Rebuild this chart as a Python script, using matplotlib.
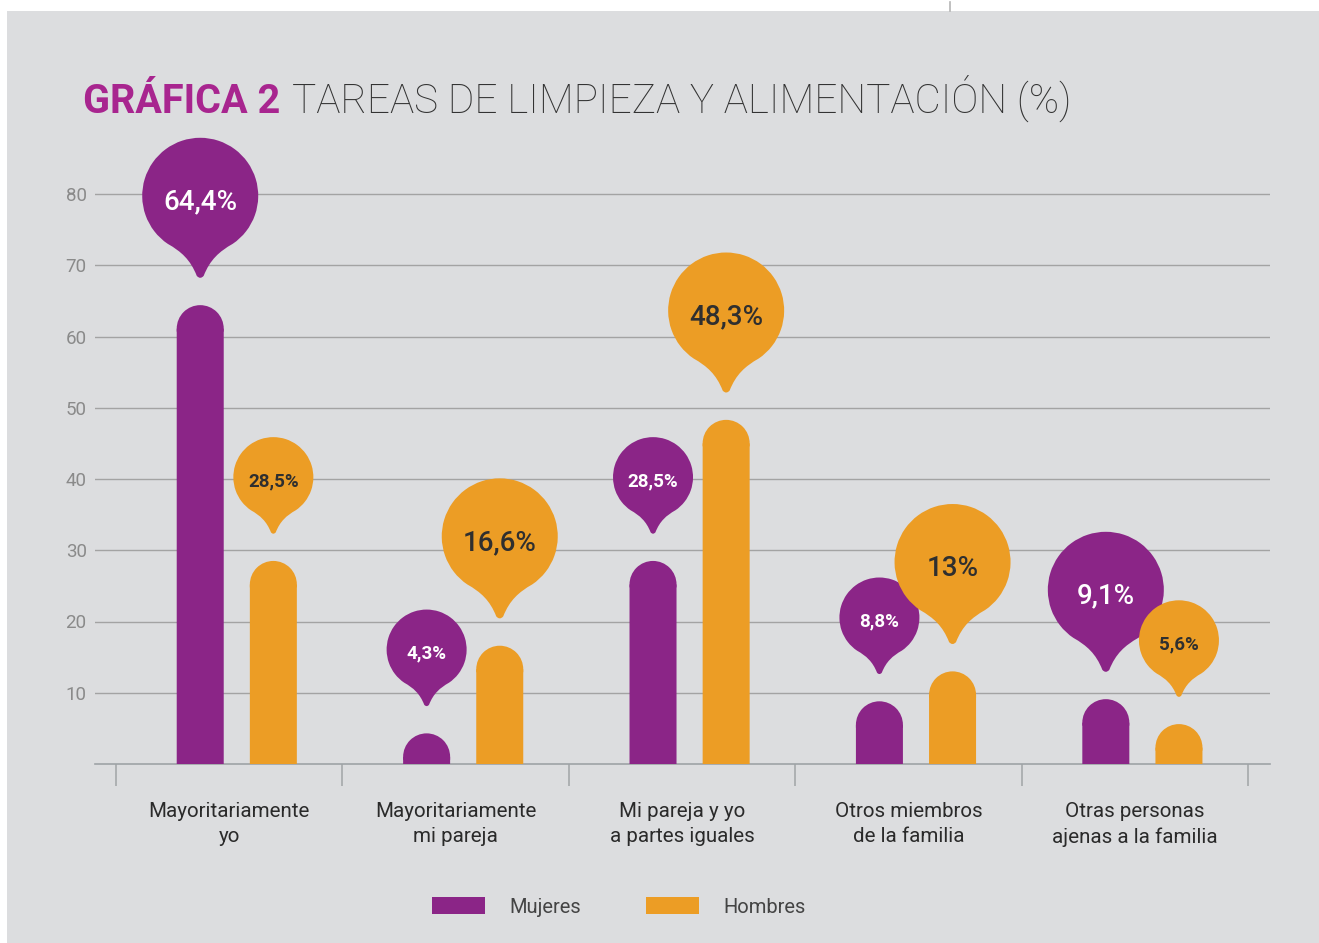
import matplotlib
matplotlib.use("Agg")
import matplotlib.pyplot as plt
from matplotlib.path import Path
from matplotlib.patches import PathPatch, Rectangle, Patch
from matplotlib.lines import Line2D
import matplotlib.transforms as mtrans

plt.rcParams['font.family'] = ['Roboto', 'DejaVu Sans']

# ---------------- data ----------------
categories = ["Mayoritariamente\nyo", "Mayoritariamente\nmi pareja",
              "Mi pareja y yo\na partes iguales", "Otros miembros\nde la familia",
              "Otras personas\najenas a la familia"]
mujeres = [64.4, 4.3, 28.5, 8.8, 9.1]
hombres = [28.5, 16.6, 48.3, 13.0, 5.6]
series_names = ["Mujeres", "Hombres"]
y_ticks = [10, 20, 30, 40, 50, 60, 70, 80]

# ---------------- style ----------------
PURPLE = "#8b2587"
ORANGE = "#ec9d25"
BG = "#dcdddf"
W, H = 1319, 943
DPI = 100

fig = plt.figure(figsize=(W / DPI, H / DPI), dpi=DPI, facecolor="white")
fig.patches.append(Rectangle((7 / W, 0), 1, (H - 11) / H, transform=fig.transFigure,
                             facecolor=BG, edgecolor="none", zorder=-10))
fig.add_artist(Line2D([950 / W, 950 / W], [1 - 2 / H, 1 - 11 / H], color="#b5b5b5", lw=1.2))

ppu = 7.125          # pixels per y unit
cat_px = 226.4       # pixels per category
x0px = 116
ax_left, ax_right = 95, 1270
ymax = 90
ax = fig.add_axes([ax_left / W, (H - 764) / H, (ax_right - ax_left) / W, ymax * ppu / H])
ax.set_facecolor("none")
ax.set_xlim((ax_left - x0px) / cat_px, (ax_right - x0px) / cat_px)
ax.set_ylim(0, ymax)

for s in ["left", "right", "top"]:
    ax.spines[s].set_visible(False)
ax.spines["bottom"].set_color("#9ea3a6")
ax.spines["bottom"].set_linewidth(1.2)

ax.set_yticks(y_ticks)
ax.set_yticklabels([str(v) for v in y_ticks])
ax.tick_params(axis="y", length=0, pad=6, labelsize=13.5, labelcolor="#8a8a8a")
ax.grid(axis="y", color="#a3a3a3", lw=1.0)
ax.set_axisbelow(True)

ax.set_xticks(range(len(categories) + 1))
ax.set_xticklabels([""] * (len(categories) + 1))
ax.tick_params(axis="x", which="major", direction="out", length=15.5, width=1.1, color="#a0a4a6")
ax.set_xticks([i + 0.5 for i in range(len(categories))], categories, minor=True)
ax.tick_params(axis="x", which="minor", length=0, pad=27.5, labelsize=14.8, labelcolor="#2a2a2a")
for lab in ax.get_xticklabels(minor=True):
    lab.set_linespacing(1.42)

# ---------------- bars ----------------
off = [0.372, 0.695]
bw = 0.2076
p0 = ax.transData.transform((0, 0))
p1 = ax.transData.transform((bw, 1))
rad_px = (p1[0] - p0[0]) / 2.0
rad_data = rad_px / (p1[1] - p0[1])

# rounded cap: semicircle plus a short overlap strip below its centre (unit radius)
cap_arc = Path.arc(0, 180)
ov = 3.0 / rad_px
cap_verts = list(cap_arc.vertices) + [(-1, -ov), (1, -ov), (1, 0)]
cap_codes = list(cap_arc.codes) + [Path.LINETO, Path.LINETO, Path.CLOSEPOLY]
cap_path = Path(cap_verts, cap_codes)


def px_transform(x, y, scale, dy):
    return (mtrans.Affine2D().scale(scale / DPI).translate(0, dy / DPI)
            + fig.dpi_scale_trans + mtrans.ScaledTranslation(x, y, ax.transData))


# pin shape, unit radius, centre at origin, tip at about (0, -1.42)
arc = Path.arc(-56, 236)
pv = list(arc.vertices)
pc = list(arc.codes)
pv += [(-0.33, -0.96), (-0.17, -1.10), (-0.06, -1.38),
       (0.0, -1.45), (0.06, -1.38),
       (0.17, -1.10), (0.33, -0.96), tuple(arc.vertices[0]),
       (0, 0)]
pc += [Path.CURVE4] * 3 + [Path.CURVE3] * 2 + [Path.CURVE4] * 3 + [Path.CLOSEPOLY]
pin_path = Path(pv, pc)

GAP = 27


def fmt(v):
    s = f"{v:.1f}".replace(".", ",")
    if s.endswith(",0"):
        s = s[:-2]
    return s + "%"


series = [mujeres, hombres]
colors = [PURPLE, ORANGE]
txtcol = ["white", "#2f2f2f"]
for si in range(2):
    vals = series[si]
    other = series[1 - si]
    for i, v in enumerate(vals):
        x = i + off[si]
        bars = ax.bar(x, v - rad_data, width=bw, bottom=0, color=colors[si],
                      lw=0, zorder=3)
        for b in bars:
            b.set_snap(False)
        ax.add_patch(PathPatch(cap_path, facecolor=colors[si], edgecolor="none",
                               transform=px_transform(x, v - rad_data, rad_px, 0),
                               zorder=3, snap=False))
        big = v > other[i]
        r = 58 if big else 40
        cy = GAP + 1.42 * r
        ax.add_patch(PathPatch(pin_path, facecolor=colors[si], edgecolor="none",
                               transform=px_transform(x, v, r, cy), zorder=4 + si,
                               clip_on=False))
        ax.annotate(fmt(v), xy=(x, v), xytext=(0, cy - (6 if big else 4)),
                    textcoords="offset pixels",
                    ha="center", va="center", color=txtcol[si],
                    fontsize=20 if big else 13.5, fontweight="medium" if big else "bold",
                    zorder=4 + si, annotation_clip=False)

# ---------------- title ----------------
t1 = fig.text(83 / W, 1 - 113 / H, "GRÁFICA 2", fontsize=28.5, fontweight="bold",
              color="#a8258f", ha="left", va="baseline")
renderer = fig.canvas.get_renderer()
bb = t1.get_window_extent(renderer)
fig.text((bb.x1 + 12) / W, 1 - 113 / H, "TAREAS DE LIMPIEZA Y ALIMENTACIÓN (%)",
         fontsize=29.2, fontweight="light", color="#333333", ha="left", va="baseline")

# ---------------- legend ----------------
handles = [Patch(facecolor=c, edgecolor="none") for c in colors]
leg = fig.legend(handles, series_names, loc="center left",
                 bbox_to_anchor=(432 / W, 1 - 907 / H), ncol=2, frameon=False,
                 fontsize=14.5, handlelength=2.65, handleheight=0.9,
                 handletextpad=1.2, columnspacing=3.2, borderpad=0, borderaxespad=0)
for t in leg.get_texts():
    t.set_color("#444444")

fig.savefig("out.png", dpi=DPI, facecolor="white")
